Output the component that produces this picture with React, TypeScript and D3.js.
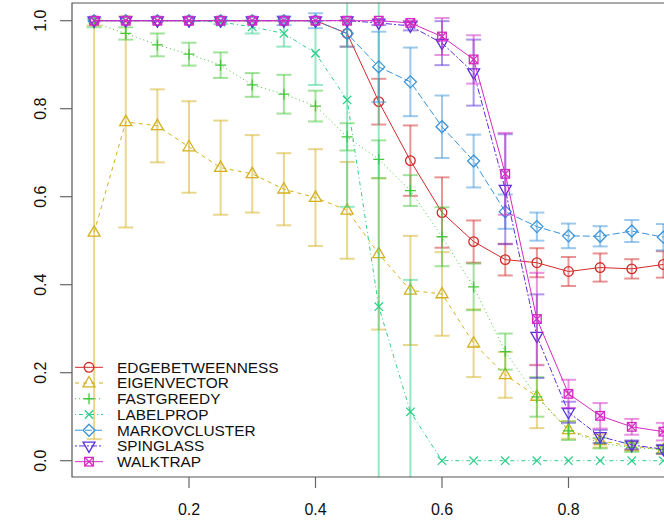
import React from "react";
import * as d3 from "d3";

const xs = [0.05, 0.1, 0.15, 0.2, 0.25, 0.3, 0.35, 0.4, 0.45, 0.5, 0.55, 0.6, 0.65, 0.7, 0.75, 0.8, 0.85, 0.9, 0.95];

const seriesNames = ["EDGEBETWEENNESS", "EIGENVECTOR", "FASTGREEDY", "LABELPROP", "MARKOVCLUSTER", "SPINGLASS", "WALKTRAP"];

const edgeMean = [1, 1, 1, 1, 1, 1, 1, 1, 0.971, 0.816, 0.682, 0.564, 0.498, 0.457, 0.45, 0.43, 0.439, 0.436, 0.446];
const edgeSd = [0, 0, 0, 0, 0, 0, 0, 0, 0.03, 0.052, 0.08, 0.08, 0.048, 0.036, 0.033, 0.033, 0.032, 0.022, 0.03];

const eigenMean = [0.519, 0.77, 0.761, 0.713, 0.666, 0.652, 0.617, 0.598, 0.569, 0.47, 0.387, 0.379, 0.267, 0.195, 0.146, 0.07, 0.045, 0.033, 0.025];
const eigenSd = [0.47, 0.24, 0.083, 0.104, 0.107, 0.088, 0.082, 0.11, 0.11, 0.172, 0.124, 0.095, 0.077, 0.052, 0.072, 0.02, 0.015, 0.01, 0.01];

const fastMean = [0.995, 0.971, 0.945, 0.924, 0.899, 0.854, 0.833, 0.806, 0.736, 0.685, 0.614, 0.509, 0.395, 0.248, 0.145, 0.068, 0.04, 0.03, 0.025];
const fastSd = [0.01, 0.014, 0.026, 0.026, 0.029, 0.027, 0.044, 0.035, 0.031, 0.043, 0.035, 0.067, 0.053, 0.041, 0.045, 0.021, 0.012, 0.01, 0.008];

const labelMean = [1, 1, 1, 1, 0.997, 0.986, 0.971, 0.926, 0.82, 0.35, 0.111, 0, 0, 0, 0, 0, 0, 0, 0];
const labelSd = [0, 0, 0, 0, 0.005, 0.015, 0.03, 0.072, 0.243, 0.7, 0.3, 0, 0, 0, 0, 0, 0, 0, 0];

const markovMean = [1, 1, 1, 1, 1, 1, 1, 1, 0.971, 0.895, 0.861, 0.759, 0.681, 0.566, 0.532, 0.511, 0.51, 0.522, 0.508];
const markovSd = [0, 0, 0, 0, 0, 0, 0.01, 0.017, 0.03, 0.08, 0.078, 0.071, 0.06, 0.039, 0.032, 0.028, 0.023, 0.025, 0.03];

const spinMean = [1, 1, 1, 1, 1, 1, 1, 1, 1, 0.995, 0.988, 0.949, 0.882, 0.617, 0.283, 0.11, 0.055, 0.036, 0.026];
const spinSd = [0, 0, 0, 0, 0, 0, 0, 0, 0, 0.005, 0.01, 0.05, 0.075, 0.125, 0.095, 0.024, 0.015, 0.01, 0.01];

const walkMean = [1, 1, 1, 1, 1, 1, 1, 1, 1, 1, 0.995, 0.964, 0.912, 0.652, 0.322, 0.152, 0.102, 0.077, 0.066];
const walkSd = [0, 0, 0, 0, 0, 0, 0, 0, 0, 0, 0.005, 0.042, 0.055, 0.093, 0.105, 0.032, 0.029, 0.018, 0.02];

const xTicks = [0.2, 0.4, 0.6, 0.8];
const yTicks = [0, 0.2, 0.4, 0.6, 0.8, 1.0];

const colors = ["#D42A2A", "#D4B01E", "#45C83A", "#2ECF8A", "#3A93DA", "#5A30DC", "#D42AC4"];
const dashes = ["none", "4,4", "1,3", "1,3,4,3", "7,3", "2,2,6,2", "none"];
const pchs = [1, 2, 3, 4, 5, 6, 7];

const means = [edgeMean, eigenMean, fastMean, labelMean, markovMean, spinMean, walkMean];
const sds = [edgeSd, eigenSd, fastSd, labelSd, markovSd, spinSd, walkSd];

const W = 664;
const H = 526;
const plotLeft = 72;
const plotTop = 3;
const plotBottom = 477;
const plotRight = 720;

const x = d3.scaleLinear().domain([0, 1]).range([62.5, 695]);
const y = d3.scaleLinear().domain([0, 1]).range([460.7, 20.7]);

function Symbol({ pch, cx, cy, color }: { pch: number; cx: number; cy: number; color: string }) {
  const sw = 1.3;
  const common = { fill: "none", stroke: color, strokeWidth: sw };
  if (pch === 1) return <circle cx={cx} cy={cy} r={4.8} {...common} />;
  if (pch === 2) {
    const p = `M${cx - 6},${cy + 3.8} L${cx + 6},${cy + 3.8} L${cx},${cy - 6.5} Z`;
    return <path d={p} {...common} />;
  }
  if (pch === 6) {
    const p = `M${cx - 6},${cy - 3.8} L${cx + 6},${cy - 3.8} L${cx},${cy + 6.5} Z`;
    return <path d={p} {...common} />;
  }
  if (pch === 3) {
    const a = 5.5;
    return <path d={`M${cx - a},${cy} L${cx + a},${cy} M${cx},${cy - a} L${cx},${cy + a}`} {...common} />;
  }
  if (pch === 4) {
    const a = 4.2;
    return <path d={`M${cx - a},${cy - a} L${cx + a},${cy + a} M${cx - a},${cy + a} L${cx + a},${cy - a}`} {...common} />;
  }
  if (pch === 5) {
    const a = 6;
    return <path d={`M${cx},${cy - a} L${cx + a},${cy} L${cx},${cy + a} L${cx - a},${cy} Z`} {...common} />;
  }
  const a = 4.3;
  return (
    <g>
      <rect x={cx - a} y={cy - a} width={2 * a} height={2 * a} {...common} />
      <path d={`M${cx - a},${cy - a} L${cx + a},${cy + a} M${cx - a},${cy + a} L${cx + a},${cy - a}`} {...common} />
    </g>
  );
}

export default function App() {
  const font = "'Liberation Sans', Arial, Helvetica, sans-serif";
  const line = d3
    .line<number>()
    .x((_, i) => x(xs[i]))
    .y((d) => y(d));
  const cap = 7.5;
  const legendY0 = 367.3;
  const legendStep = 15.73;

  return (
    <svg
      width={W}
      height={H}
      style={{ position: "absolute", left: 0, top: 0, display: "block", background: "#fff" }}
    >
      <defs>
        <clipPath id="plotclip">
          <rect x={plotLeft} y={plotTop} width={plotRight - plotLeft} height={plotBottom - plotTop} />
        </clipPath>
      </defs>

      <g clipPath="url(#plotclip)">
        {means.map((m, si) => (
          <g key={seriesNames[si]}>
            {m.map((v, i) => {
              const s = sds[si][i];
              if (s <= 0) return null;
              const cx = x(xs[i]);
              const y1 = y(v + s);
              const y2 = y(v - s);
              return (
                <g key={i} stroke={colors[si]} strokeOpacity={0.5} strokeWidth={2}>
                  <line x1={cx} x2={cx} y1={y1} y2={y2} />
                  <line x1={cx - cap} x2={cx + cap} y1={y1} y2={y1} />
                  <line x1={cx - cap} x2={cx + cap} y1={y2} y2={y2} />
                </g>
              );
            })}
            <path
              d={line(m) || ""}
              fill="none"
              stroke={colors[si]}
              strokeWidth={1}
              strokeDasharray={dashes[si]}
            />
            {m.map((v, i) => (
              <Symbol key={i} pch={pchs[si]} cx={x(xs[i])} cy={y(v)} color={colors[si]} />
            ))}
          </g>
        ))}
      </g>

      {/* frame */}
      <path
        d={`M${plotRight},${plotTop} L${plotLeft},${plotTop} L${plotLeft},${plotBottom} L${plotRight},${plotBottom}`}
        fill="none"
        stroke="#555"
        strokeWidth={1.2}
      />

      {/* y axis */}
      {yTicks.map((t) => (
        <g key={t}>
          <line x1={60} x2={plotLeft} y1={y(t)} y2={y(t)} stroke="#666" strokeWidth={1.2} />
          <text
            transform={`translate(46,${y(t)}) rotate(-90)`}
            textAnchor="middle"
            fontFamily={font}
            fontSize={16}
            fill="#111"
          >
            {t.toFixed(1)}
          </text>
        </g>
      ))}

      {/* x axis */}
      {xTicks.map((t) => (
        <g key={t}>
          <line x1={x(t)} x2={x(t)} y1={plotBottom} y2={488} stroke="#666" strokeWidth={1.2} />
          <text x={x(t)} y={515} textAnchor="middle" fontFamily={font} fontSize={16} fill="#111">
            {t.toFixed(1)}
          </text>
        </g>
      ))}

      {/* legend */}
      {seriesNames.map((name, si) => {
        const ly = legendY0 + si * legendStep;
        return (
          <g key={name}>
            <line
              x1={75}
              x2={103}
              y1={ly}
              y2={ly}
              stroke={colors[si]}
              strokeWidth={1}
              strokeDasharray={dashes[si]}
            />
            <Symbol pch={pchs[si]} cx={89} cy={ly} color={colors[si]} />
            <text x={117} y={ly + 5.4} fontFamily={font} fontSize={15.4} fill="#111">
              {name}
            </text>
          </g>
        );
      })}
    </svg>
  );
}
